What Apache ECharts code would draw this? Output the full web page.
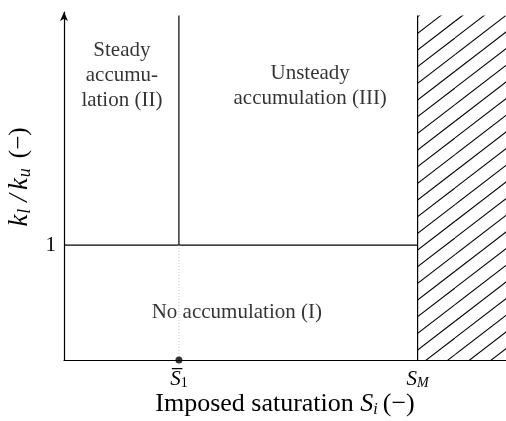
<!DOCTYPE html>
<html>
<head>
<meta charset="utf-8">
<script src="https://cdn.jsdelivr.net/npm/echarts@6/dist/echarts.min.js"></script>
<style>
  html, body { margin: 0; padding: 0; background: #fff; }
  #chart { width: 506px; height: 421px; }
</style>
</head>
<body>
<div id="chart"></div>
<script>
// Regime boundaries on the saturation axis
const S1 = 0.26;          // steady / unsteady split (S̄1)
const SM = 0.80;          // maximum saturation S_M
const xMax = 1.0;
// Permeability ratio levels
const kRatioCritical = 1; // kl/ku = 1
const yTop = 3.0;         // upper end of the drawn regions
const yAxisMax = 3.03;    // axis runs slightly beyond, ending in an arrow

// Axis tick values and their labels
const xTickValues = [S1, SM];
const xTickLabels = ['{bar|S\u0305}{sub|1}', '{i|S}{isub|M}'];
const yTickValues = [kRatioCritical];
const yTickLabels = ['1'];

// Regime names and the data positions of their labels
const regionNames = ['Steady\naccumu-\nlation (II)', 'Unsteady\naccumulation (III)', 'No accumulation (I)'];
const regionLabelX = [0.131, 0.557, 0.391];
const regionLabelY = [2.48, 2.39, 0.41];

const SERIF = '"Liberation Serif", "DejaVu Serif", serif';

// Diagonal hatch tile for the inaccessible region beyond S_M
function hatchPattern() {
  const w = 65, h = 50;            // three lines per tile
  const c = document.createElement('canvas');
  c.width = w; c.height = h;
  const ctx = c.getContext('2d');
  ctx.strokeStyle = '#000';
  ctx.lineWidth = 1.1;
  const step = h / 3;
  for (let k = -3; k <= 8; k++) {
    const y0 = 4.6 + step * k;
    ctx.beginPath();
    ctx.moveTo(0, y0);
    ctx.lineTo(w, y0 - h);
    ctx.stroke();
  }
  return { image: c, repeat: 'repeat' };
}

const blackLine = { color: '#000', width: 1.2 };

const xNameRich = {
  n: { fontFamily: SERIF, fontSize: 26, color: '#000', lineHeight: 28 },
  i: { fontFamily: SERIF, fontSize: 26, fontStyle: 'italic', color: '#000', lineHeight: 28 },
  sub: { fontFamily: SERIF, fontSize: 16, fontStyle: 'italic', color: '#000', verticalAlign: 'bottom', padding: [0, 5, 0, 0] }
};
const yNameRich = {
  n: { fontFamily: SERIF, fontSize: 25, color: '#000', lineHeight: 30, padding: [0, 0, 0, 7] },
  i: { fontFamily: SERIF, fontSize: 27, fontStyle: 'italic', color: '#000', lineHeight: 30 },
  sl: { fontFamily: SERIF, fontSize: 27, fontStyle: 'italic', color: '#000', lineHeight: 30, padding: [0, 4, 0, 4] },
  sub: { fontFamily: SERIF, fontSize: 18, fontStyle: 'italic', color: '#000', verticalAlign: 'bottom', padding: [0, 3, 0, 1] }
};

const chart = echarts.init(document.getElementById('chart'), null, { renderer: 'canvas' });

chart.setOption({
  animation: false,
  backgroundColor: '#fff',
  grid: { left: 64, right: 0, top: 12, bottom: 61, containLabel: false, outerBoundsMode: 'none' },
  xAxis: {
    type: 'value',
    min: 0,
    max: xMax,
    name: '{n|Imposed saturation }{i|S}{sub|i}{n|(\u2212)}',
    nameLocation: 'middle',
    nameGap: 30,
    nameMoveOverlap: false,
    nameTextStyle: { rich: xNameRich },
    axisLine: { show: true, lineStyle: blackLine },
    axisTick: { show: false },
    splitLine: { show: false },
    axisLabel: {
      customValues: xTickValues,
      margin: 8,
      formatter: function (v) {
        const idx = xTickValues.findIndex(t => Math.abs(t - v) < 1e-9);
        return idx >= 0 ? xTickLabels[idx] : '';
      },
      rich: {
        i: { fontFamily: SERIF, fontSize: 21, fontStyle: 'italic', color: '#000', lineHeight: 22 },
        bar: { fontFamily: SERIF, fontSize: 21, fontStyle: 'italic', color: '#000', lineHeight: 22 },
        sub: { fontFamily: SERIF, fontSize: 14, color: '#000', verticalAlign: 'bottom' },
        isub: { fontFamily: SERIF, fontSize: 14, fontStyle: 'italic', color: '#000', verticalAlign: 'bottom' }
      }
    }
  },
  yAxis: {
    type: 'value',
    min: 0,
    max: yAxisMax,
    interval: 1,
    name: '{i|k}{sub|l}{sl|/}{i|k}{sub|u}{n|(\u2212)}',
    nameLocation: 'middle',
    nameGap: 27,
    nameTextStyle: { rich: yNameRich, padding: [0, 0, 0, 18] },
    axisLine: {
      show: true,
      lineStyle: blackLine,
      symbol: ['none', 'arrow'],
      symbolSize: [6, 9]
    },
    axisTick: { show: false },
    splitLine: { show: false },
    axisLabel: {
      margin: 8,
      fontFamily: SERIF,
      fontSize: 21,
      color: '#000',
      formatter: function (v) {
        const idx = yTickValues.findIndex(t => Math.abs(t - v) < 1e-9);
        return idx >= 0 ? yTickLabels[idx] : '';
      }
    }
  },
  series: [
    {
      // hatched region S > S_M
      type: 'line',
      data: [],
      silent: true,
      markArea: {
        silent: true,
        itemStyle: { color: hatchPattern(), borderWidth: 0 },
        data: [[{ xAxis: SM, yAxis: 0 }, { xAxis: xMax, yAxis: yTop }]]
      }
    },
    {
      // kl/ku = 1 boundary
      type: 'line', symbol: 'none', silent: true,
      lineStyle: blackLine,
      data: [[0, kRatioCritical], [SM, kRatioCritical]]
    },
    {
      // steady / unsteady boundary
      type: 'line', symbol: 'none', silent: true,
      lineStyle: blackLine,
      data: [[S1, kRatioCritical], [S1, yTop]]
    },
    {
      // guide from S̄1 down to the axis
      type: 'line', symbol: 'none', silent: true,
      lineStyle: { color: '#c4c4c4', width: 1, type: [1, 2] },
      data: [[S1, 0], [S1, kRatioCritical]]
    },
    {
      // S_M limit
      type: 'line', symbol: 'none', silent: true,
      lineStyle: blackLine,
      data: [[SM, 0], [SM, yTop]]
    },
    {
      // marker at S̄1 on the saturation axis
      type: 'scatter', silent: true, clip: false,
      symbolSize: 7,
      itemStyle: { color: '#000' },
      data: [[S1, 0]],
      z: 5
    },
    {
      // regime labels
      type: 'scatter', silent: true,
      symbolSize: 0,
      data: regionNames.map((n, i) => ({ name: n, value: [regionLabelX[i], regionLabelY[i]] })),
      label: {
        show: true,
        position: 'inside',
        formatter: '{b}',
        fontFamily: SERIF,
        fontSize: 21,
        lineHeight: 25,
        color: '#000',
        align: 'center'
      }
    }
  ]
});
</script>
</body>
</html>
